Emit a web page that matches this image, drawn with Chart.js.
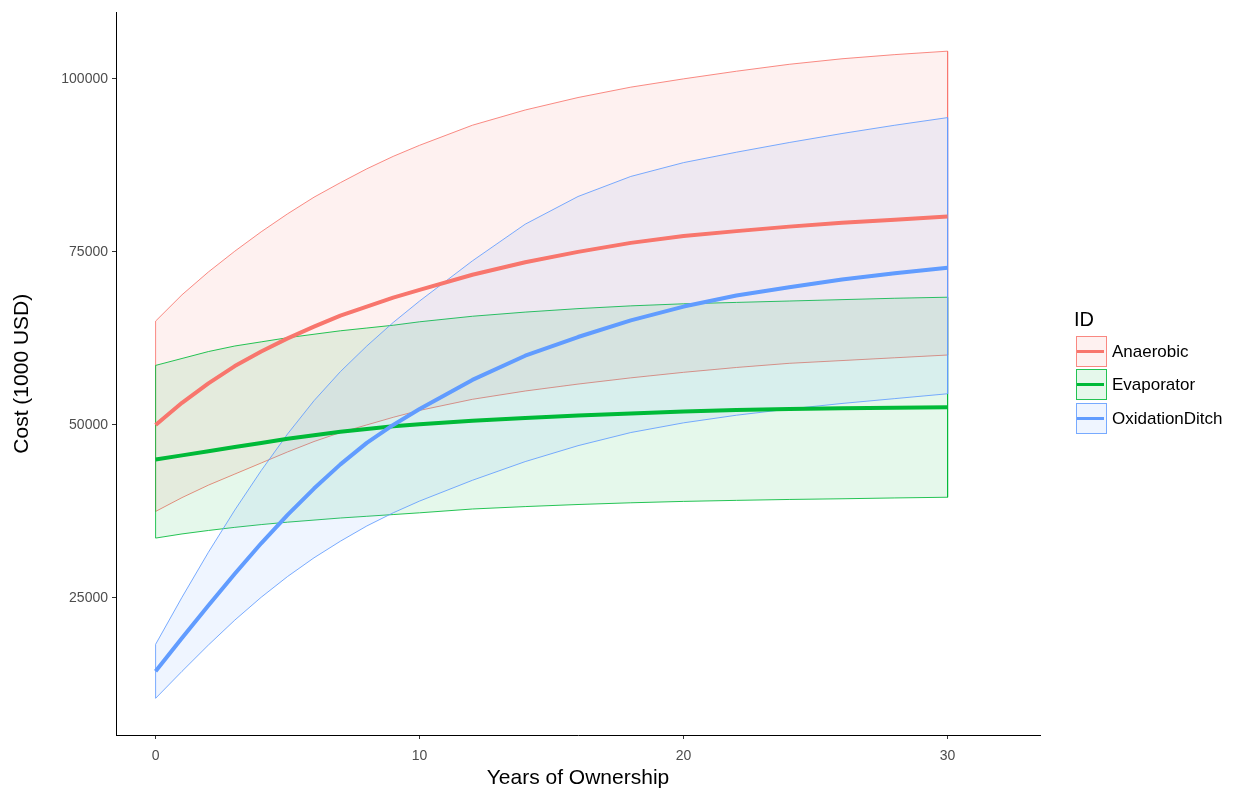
<!DOCTYPE html>
<html>
<head>
<meta charset="utf-8">
<script src="https://cdn.jsdelivr.net/npm/chart.js@4.4.1/dist/chart.umd.min.js"></script>
<style>
  body { margin: 0; background: #fff; }
  #wrap { position: relative; width: 1238px; height: 793px; font-family: "Liberation Sans", Arial, sans-serif; }
  #chart { position: absolute; left: 0; top: 0; }
  .lg-title { position: absolute; left: 1074px; top: 309px; font-size: 20px; line-height: 20px; color: #000; }
  .lg-key { position: absolute; left: 1076px; width: 31px; height: 31px; box-sizing: border-box; border: 1px solid; }
  .lg-key span { position: absolute; left: 0px; top: 13px; width: 27px; height: 3px; }
  .lg-label { position: absolute; left: 1112px; height: 31px; line-height: 31px; font-size: 17px; color: #000; }
</style>
</head>
<body>
<div id="wrap">
  <canvas id="chart" width="1238" height="793"></canvas>
  <div id="legend"></div>
</div>
<script>
// years of ownership
const years = [0, 1, 2, 3, 4, 5, 6, 7, 8, 9, 10, 12, 14, 16, 18, 20, 22, 24, 26, 28, 30];

const anaerobicMean  = [50000, 53200, 56000, 58500, 60600, 62500, 64200, 65800, 67100, 68400, 69500, 71700, 73500, 75000, 76300, 77300, 78000, 78650, 79200, 79650, 80100];
const anaerobicUpper = [65000, 68800, 72100, 75100, 77900, 80500, 82900, 85000, 87000, 88800, 90400, 93300, 95500, 97300, 98800, 100000, 101100, 102100, 102900, 103500, 104000];
const anaerobicLower = [37500, 39500, 41300, 42900, 44500, 46100, 47600, 48900, 50000, 51100, 52100, 53700, 54900, 55900, 56800, 57600, 58300, 58900, 59300, 59700, 60100];

const evaporatorMean  = [45000, 45600, 46200, 46800, 47400, 48000, 48500, 49000, 49400, 49800, 50100, 50600, 51000, 51350, 51650, 51950, 52150, 52300, 52400, 52480, 52550];
const evaporatorUpper = [58600, 59600, 60600, 61400, 62000, 62600, 63100, 63600, 64000, 64400, 64900, 65700, 66300, 66800, 67200, 67500, 67700, 67900, 68100, 68300, 68450];
const evaporatorLower = [33650, 34250, 34750, 35200, 35600, 35950, 36250, 36550, 36800, 37050, 37300, 37850, 38200, 38500, 38750, 38950, 39100, 39230, 39330, 39450, 39550];

const ditchMean  = [14400, 19200, 23900, 28500, 32900, 37000, 40800, 44300, 47400, 50000, 52300, 56500, 60000, 62700, 65100, 67100, 68700, 69900, 71000, 71900, 72700];
const ditchUpper = [18300, 25100, 31600, 37700, 43400, 48700, 53500, 57700, 61400, 64800, 67900, 73700, 79000, 83000, 85900, 87900, 89400, 90800, 92100, 93300, 94400];
const ditchLower = [10500, 14400, 18200, 21800, 25100, 28100, 30800, 33200, 35400, 37300, 39000, 42000, 44700, 47000, 48900, 50300, 51400, 52300, 53100, 53800, 54500];

const xTicks = [0, 10, 20, 30];
const yTicks = [25000, 50000, 75000, 100000];

const series = [
  { name: 'Anaerobic', rgb: '248,118,109', mean: anaerobicMean, upper: anaerobicUpper, lower: anaerobicLower },
  { name: 'Evaporator', rgb: '0,186,56', mean: evaporatorMean, upper: evaporatorUpper, lower: evaporatorLower },
  { name: 'OxidationDitch', rgb: '97,156,255', mean: ditchMean, upper: ditchUpper, lower: ditchLower }
];

// closed polygon: upper edge forward, lower edge back
function band(upper, lower) {
  const pts = upper.map((v, i) => ({ x: years[i], y: v }));
  for (let i = lower.length - 1; i >= 0; i--) pts.push({ x: years[i], y: lower[i] });
  pts.push({ x: years[0], y: upper[0] });
  return pts;
}

function points(vals) {
  return vals.map((v, i) => ({ x: years[i], y: v }));
}

const datasets = [];
series.forEach((s, i) => {
  datasets.push({
    label: s.name + ' band',
    data: band(s.upper, s.lower),
    showLine: true,
    fill: 'shape',
    backgroundColor: `rgba(${s.rgb},0.1)`,
    borderColor: `rgba(${s.rgb},0.85)`,
    borderWidth: 1,
    pointRadius: 0,
    tension: 0,
    order: 10 - i
  });
});
series.forEach((s, i) => {
  datasets.push({
    label: s.name,
    data: points(s.mean),
    showLine: true,
    fill: false,
    borderColor: `rgb(${s.rgb})`,
    borderWidth: 4,
    borderJoinStyle: 'round',
    pointRadius: 0,
    tension: 0,
    order: 3 - i
  });
});

Chart.defaults.font.family = '"Liberation Sans", Arial, sans-serif';

new Chart(document.getElementById('chart').getContext('2d'), {
  type: 'scatter',
  data: { datasets: datasets },
  options: {
    responsive: false,
    animation: false,
    layout: { padding: { top: 10, right: 198, bottom: 0, left: 0 } },
    plugins: { legend: { display: false }, tooltip: { enabled: false } },
    scales: {
      x: {
        type: 'linear',
        min: -1.5,
        max: 33.5,
        afterBuildTicks: scale => { scale.ticks = xTicks.map(v => ({ value: v })); },
        afterFit: scale => { scale.height = 58; },
        grid: { drawOnChartArea: false, drawTicks: true, tickLength: 4, color: '#333333' },
        border: { display: true, color: '#000000', width: 1 },
        ticks: { color: '#4D4D4D', font: { size: 14 }, padding: 9, maxRotation: 0 },
        title: { display: true, text: 'Years of Ownership', color: '#000000', font: { size: 21 }, padding: { top: 0, bottom: 2 } }
      },
      y: {
        type: 'linear',
        min: 5200,
        max: 109600,
        afterBuildTicks: scale => { scale.ticks = yTicks.map(v => ({ value: v })); },
        afterFit: scale => { scale.width = 116; },
        grid: { drawOnChartArea: false, drawTicks: true, tickLength: 4, color: '#333333' },
        border: { display: true, color: '#000000', width: 1 },
        ticks: { color: '#4D4D4D', font: { size: 14 }, padding: 4, callback: v => String(v) },
        title: { display: true, text: 'Cost (1000 USD)', color: '#000000', font: { size: 21 }, padding: { top: 10, bottom: 0 } }
      }
    }
  }
});

// legend in the ggplot style
const legend = document.getElementById('legend');
let html = '<div class="lg-title">ID</div>';
const keyTops = [336, 369, 403];
series.forEach((s, i) => {
  html += `<div class="lg-key" style="top:${keyTops[i]}px;border-color:rgba(${s.rgb},0.85);background:rgba(${s.rgb},0.1)"><span style="background:rgb(${s.rgb})"></span></div>`;
  html += `<div class="lg-label" style="top:${keyTops[i]}px">${s.name}</div>`;
});
legend.innerHTML = html;
</script>
</body>
</html>
